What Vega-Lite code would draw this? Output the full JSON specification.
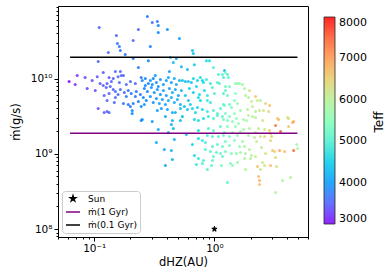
{
"$schema": "https://vega.github.io/schema/vega-lite/v6.json",
"autosize": {"type": "none"},
"padding": {"left": 58, "top": 6, "right": 82, "bottom": 41},
"width": 250,
"height": 231,
"config": {
 "font": "DejaVu Sans",
 "view": {"stroke": "black", "strokeWidth": 1},
 "axis": {"domainColor": "black", "tickColor": "black", "labelColor": "black", "titleColor": "black", "labelFontSize": 10.5, "titleFontSize": 11.5, "titleFontWeight": "normal", "grid": false, "tickWidth": 1, "domainWidth": 1}
},
"resolve": {"axis": {"x": "independent", "y": "independent"}},
"layer": [
 {
  "data": {"values": [
{"x":0.110,"y":4.76e10,"t":3500},{"x":0.277,"y":6.66e10,"t":3700},{"x":0.304,"y":5.54e10,"t":3600},{"x":0.335,"y":5.71e10,"t":3700},{"x":0.341,"y":5.06e10,"t":3800},{"x":0.341,"y":4.08e10,"t":3800},{"x":0.233,"y":4.47e10,"t":3500},{"x":0.153,"y":3.72e10,"t":3500},{"x":0.211,"y":3.20e10,"t":3600},{"x":0.156,"y":2.92e10,"t":3700},
{"x":0.162,"y":2.66e10,"t":3700},{"x":0.165,"y":2.35e10,"t":3700},{"x":0.293,"y":2.66e10,"t":3800},{"x":0.406,"y":4.47e10,"t":3900},{"x":0.511,"y":3.40e10,"t":4000},{"x":0.131,"y":2.21e10,"t":3600},{"x":0.181,"y":2.08e10,"t":3700},{"x":0.656,"y":2.35e10,"t":4300},{"x":0.668,"y":2.15e10,"t":4300},{"x":0.108,"y":1.68e10,"t":3600},
{"x":0.211,"y":1.84e10,"t":3700},{"x":0.233,"y":1.40e10,"t":3700},{"x":0.282,"y":1.73e10,"t":3800},{"x":0.430,"y":1.90e10,"t":4400},{"x":0.482,"y":1.84e10,"t":4100},{"x":0.455,"y":1.63e10,"t":4300},{"x":0.531,"y":1.44e10,"t":4200},{"x":0.681,"y":1.53e10,"t":4500},{"x":0.858,"y":1.73e10,"t":4700},{"x":0.909,"y":1.73e10,"t":4700},
{"x":0.422,"y":1.24e10,"t":4000},{"x":0.596,"y":1.32e10,"t":4300},{"x":0.981,"y":1.40e10,"t":5000},{"x":1.080,"y":1.13e10,"t":5000},{"x":1.166,"y":1.13e10,"t":5000},{"x":1.212,"y":1.28e10,"t":4300},{"x":1.235,"y":1.20e10,"t":5300},{"x":0.0619,"y":9.12e9,"t":3000},{"x":0.0722,"y":1.10e10,"t":3100},{"x":0.0841,"y":1.03e10,"t":3200},
{"x":0.0695,"y":8.32e9,"t":3100},{"x":0.0874,"y":7.36e9,"t":3200},{"x":0.106,"y":1.06e10,"t":3300},{"x":0.119,"y":1.20e10,"t":3400},{"x":0.133,"y":1.03e10,"t":3400},{"x":0.150,"y":1.24e10,"t":3500},{"x":0.165,"y":1.24e10,"t":3500},{"x":0.168,"y":1.10e10,"t":3600},{"x":0.144,"y":1.00e10,"t":3400},{"x":0.158,"y":1.06e10,"t":3500},
{"x":0.175,"y":1.10e10,"t":3500},{"x":0.200,"y":9.12e9,"t":3600},{"x":0.220,"y":8.58e9,"t":3600},{"x":0.246,"y":1.03e10,"t":3700},{"x":0.112,"y":8.58e9,"t":3400},{"x":0.119,"y":8.07e9,"t":3400},{"x":0.128,"y":8.58e9,"t":3400},{"x":0.126,"y":7.59e9,"t":3500},{"x":0.136,"y":7.83e9,"t":3500},{"x":0.144,"y":7.14e9,"t":3500},
{"x":0.150,"y":6.72e9,"t":3600},{"x":0.165,"y":7.14e9,"t":3600},{"x":0.178,"y":6.52e9,"t":3600},{"x":0.192,"y":6.93e9,"t":3700},{"x":0.203,"y":6.32e9,"t":3700},{"x":0.224,"y":6.72e9,"t":3700},{"x":0.242,"y":6.13e9,"t":3700},{"x":0.121,"y":5.94e9,"t":3500},{"x":0.133,"y":6.32e9,"t":3500},{"x":0.150,"y":5.59e9,"t":3600},
{"x":0.158,"y":6.13e9,"t":3600},{"x":0.185,"y":5.77e9,"t":3700},{"x":0.220,"y":5.77e9,"t":3700},{"x":0.128,"y":5.10e9,"t":3500},{"x":0.147,"y":4.80e9,"t":3600},{"x":0.175,"y":4.66e9,"t":3700},{"x":0.192,"y":4.52e9,"t":3700},{"x":0.211,"y":4.66e9,"t":3700},{"x":0.233,"y":4.95e9,"t":3800},{"x":0.108,"y":4.00e9,"t":3300},
{"x":0.121,"y":3.54e9,"t":3400},{"x":0.128,"y":3.65e9,"t":3500},{"x":0.133,"y":3.54e9,"t":3500},{"x":0.200,"y":4.25e9,"t":3700},{"x":0.207,"y":3.76e9,"t":3800},{"x":0.207,"y":3.43e9,"t":3800},{"x":0.246,"y":4.25e9,"t":3800},{"x":0.251,"y":2.85e9,"t":3900},{"x":0.0962,"y":9.41e9,"t":3300},{"x":0.102,"y":6.93e9,"t":3300},
{"x":0.139,"y":9.12e9,"t":3500},{"x":0.185,"y":8.32e9,"t":3600},{"x":0.162,"y":8.85e9,"t":3600},{"x":0.251,"y":9.41e9,"t":3800},{"x":0.266,"y":1.00e10,"t":3800},{"x":0.282,"y":8.58e9,"t":3800},{"x":0.293,"y":9.41e9,"t":3900},{"x":0.310,"y":1.00e10,"t":3800},{"x":0.329,"y":8.85e9,"t":3900},{"x":0.341,"y":7.83e9,"t":3900},
{"x":0.355,"y":9.70e9,"t":3900},{"x":0.376,"y":8.32e9,"t":4000},{"x":0.398,"y":9.41e9,"t":4000},{"x":0.414,"y":1.03e10,"t":4100},{"x":0.438,"y":8.85e9,"t":4000},{"x":0.464,"y":1.00e10,"t":4100},{"x":0.482,"y":8.32e9,"t":4100},{"x":0.511,"y":9.41e9,"t":4200},{"x":0.261,"y":7.36e9,"t":3800},{"x":0.277,"y":6.72e9,"t":3800},
{"x":0.299,"y":7.59e9,"t":3900},{"x":0.316,"y":6.52e9,"t":3900},{"x":0.335,"y":7.14e9,"t":3900},{"x":0.355,"y":6.13e9,"t":3900},{"x":0.376,"y":6.93e9,"t":4000},{"x":0.398,"y":5.94e9,"t":4000},{"x":0.422,"y":7.36e9,"t":4000},{"x":0.447,"y":6.52e9,"t":4100},{"x":0.473,"y":7.14e9,"t":4100},{"x":0.501,"y":5.94e9,"t":4100},
{"x":0.531,"y":6.93e9,"t":4200},{"x":0.256,"y":5.59e9,"t":3800},{"x":0.271,"y":5.10e9,"t":3800},{"x":0.293,"y":5.77e9,"t":3900},{"x":0.310,"y":4.80e9,"t":3900},{"x":0.329,"y":5.42e9,"t":3900},{"x":0.348,"y":4.66e9,"t":4000},{"x":0.369,"y":5.26e9,"t":4000},{"x":0.391,"y":4.52e9,"t":4000},{"x":0.414,"y":5.10e9,"t":4100},
{"x":0.438,"y":5.59e9,"t":4100},{"x":0.464,"y":4.80e9,"t":4100},{"x":0.492,"y":5.26e9,"t":4200},{"x":0.521,"y":4.52e9,"t":4200},{"x":0.261,"y":4.52e9,"t":3900},{"x":0.335,"y":3.76e9,"t":4000},{"x":0.362,"y":4.00e9,"t":4000},{"x":0.406,"y":3.88e9,"t":4100},{"x":0.447,"y":3.54e9,"t":4100},{"x":0.473,"y":3.54e9,"t":4200},
{"x":0.521,"y":4.00e9,"t":4300},{"x":0.562,"y":4.25e9,"t":4300},{"x":0.596,"y":3.88e9,"t":4400},{"x":0.541,"y":9.41e9,"t":4300},{"x":0.573,"y":9.12e9,"t":4300},{"x":0.607,"y":9.12e9,"t":4400},{"x":0.643,"y":8.85e9,"t":4400},{"x":0.322,"y":1.10e10,"t":3900},{"x":0.391,"y":3.13e9,"t":4100},{"x":0.447,"y":2.77e9,"t":4200},
{"x":0.521,"y":2.77e9,"t":4300},{"x":0.541,"y":3.13e9,"t":4300},{"x":0.246,"y":2.77e9,"t":3900},{"x":0.304,"y":2.69e9,"t":4000},{"x":0.438,"y":2.45e9,"t":4200},{"x":0.455,"y":2.17e9,"t":4200},{"x":0.341,"y":2.10e9,"t":4100},{"x":0.414,"y":1.92e9,"t":4100},{"x":0.584,"y":1.80e9,"t":4400},{"x":0.464,"y":1.55e9,"t":4200},
{"x":0.329,"y":1.41e9,"t":4100},{"x":0.383,"y":1.14e9,"t":4100},{"x":0.438,"y":1.11e9,"t":4200},{"x":0.391,"y":6.99e8,"t":4100},{"x":0.447,"y":8.40e8,"t":4200},{"x":0.266,"y":8.07e9,"t":3800},{"x":0.304,"y":8.32e9,"t":3900},{"x":0.668,"y":1.00e10,"t":4600},{"x":0.722,"y":9.41e9,"t":4600},{"x":0.764,"y":1.03e10,"t":4700},
{"x":0.794,"y":9.41e9,"t":4600},{"x":0.810,"y":8.85e9,"t":4700},{"x":0.858,"y":9.70e9,"t":4800},{"x":0.926,"y":8.58e9,"t":4800},{"x":0.962,"y":7.59e9,"t":4900},{"x":1.059,"y":8.85e9,"t":4900},{"x":1.101,"y":8.58e9,"t":5000},{"x":1.189,"y":1.03e10,"t":4900},{"x":1.308,"y":1.03e10,"t":5200},{"x":1.283,"y":1.13e10,"t":5000},
{"x":0.619,"y":7.36e9,"t":4500},{"x":0.668,"y":6.52e9,"t":4500},{"x":0.708,"y":7.83e9,"t":4600},{"x":0.750,"y":6.13e9,"t":4600},{"x":0.736,"y":5.59e9,"t":4700},{"x":0.764,"y":5.10e9,"t":4700},{"x":0.825,"y":6.93e9,"t":4700},{"x":0.874,"y":5.10e9,"t":4800},{"x":0.926,"y":4.80e9,"t":4800},{"x":0.874,"y":5.94e9,"t":4800},
{"x":1.000,"y":6.32e9,"t":4900},{"x":0.573,"y":5.94e9,"t":4400},{"x":0.607,"y":5.10e9,"t":4400},{"x":0.631,"y":4.52e9,"t":4500},{"x":0.656,"y":4.00e9,"t":4600},{"x":0.722,"y":4.12e9,"t":4600},{"x":0.794,"y":3.88e9,"t":4700},{"x":0.874,"y":3.65e9,"t":4800},{"x":0.981,"y":3.76e9,"t":4900},{"x":1.122,"y":4.00e9,"t":5000},
{"x":0.681,"y":2.85e9,"t":4600},{"x":0.736,"y":2.77e9,"t":4700},{"x":0.810,"y":2.94e9,"t":4700},{"x":0.891,"y":3.13e9,"t":4800},{"x":0.981,"y":2.94e9,"t":4900},{"x":1.059,"y":3.23e9,"t":5000},{"x":1.166,"y":3.13e9,"t":5100},{"x":0.736,"y":2.04e9,"t":4700},{"x":0.891,"y":2.17e9,"t":4900},{"x":0.981,"y":2.04e9,"t":5000},
{"x":1.122,"y":2.30e9,"t":5100},{"x":0.874,"y":1.75e9,"t":4900},{"x":0.962,"y":1.70e9,"t":5000},{"x":1.080,"y":1.70e9,"t":5100},{"x":1.189,"y":1.75e9,"t":5200},{"x":0.736,"y":1.60e9,"t":4700},{"x":0.794,"y":1.50e9,"t":4800},{"x":0.656,"y":1.33e9,"t":4600},{"x":0.841,"y":1.41e9,"t":4900},{"x":0.962,"y":1.25e9,"t":5000},
{"x":1.059,"y":1.33e9,"t":5100},{"x":1.166,"y":1.25e9,"t":5200},{"x":0.841,"y":1.14e9,"t":5000},{"x":0.926,"y":1.07e9,"t":5100},{"x":1.039,"y":1.04e9,"t":5100},{"x":1.122,"y":1.01e9,"t":5200},{"x":0.681,"y":9.49e8,"t":4700},{"x":0.981,"y":9.21e8,"t":5100},{"x":1.166,"y":9.21e8,"t":5200},{"x":0.736,"y":8.66e8,"t":4800},
{"x":0.810,"y":8.15e8,"t":4900},{"x":0.962,"y":8.15e8,"t":5100},{"x":0.708,"y":7.21e8,"t":4800},{"x":0.794,"y":7.43e8,"t":5000},{"x":0.944,"y":6.99e8,"t":5100},{"x":1.144,"y":6.99e8,"t":5300},{"x":0.874,"y":6.19e8,"t":5000},{"x":1.189,"y":4.52e9,"t":5100},{"x":1.334,"y":4.52e9,"t":5200},{"x":1.189,"y":6.32e9,"t":5000},
{"x":1.235,"y":6.93e9,"t":5100},{"x":1.283,"y":5.94e9,"t":5200},{"x":1.235,"y":7.83e9,"t":5200},{"x":1.334,"y":7.83e9,"t":5300},{"x":0.695,"y":3.54e9,"t":4600},{"x":1.496,"y":8.58e9,"t":5600},{"x":1.555,"y":8.58e9,"t":5700},{"x":1.616,"y":8.58e9,"t":5600},{"x":1.711,"y":8.32e9,"t":5800},{"x":1.778,"y":7.36e9,"t":5800},
{"x":1.957,"y":6.93e9,"t":6300},{"x":1.496,"y":6.32e9,"t":5500},{"x":1.813,"y":5.94e9,"t":5900},{"x":1.920,"y":5.59e9,"t":6000},{"x":2.196,"y":5.77e9,"t":6600},{"x":1.468,"y":5.10e9,"t":5500},{"x":1.555,"y":4.66e9,"t":5600},{"x":2.034,"y":4.95e9,"t":6100},{"x":2.282,"y":5.10e9,"t":6200},{"x":2.416,"y":5.10e9,"t":6000},
{"x":2.661,"y":4.66e9,"t":6400},{"x":2.873,"y":4.38e9,"t":6700},{"x":1.212,"y":4.38e9,"t":5300},{"x":1.386,"y":4.12e9,"t":5400},{"x":1.884,"y":3.88e9,"t":5900},{"x":2.073,"y":4.25e9,"t":6100},{"x":2.196,"y":3.65e9,"t":6000},{"x":2.371,"y":3.76e9,"t":6200},{"x":2.560,"y":3.76e9,"t":6300},{"x":2.818,"y":3.65e9,"t":6400},
{"x":1.235,"y":3.43e9,"t":5300},{"x":1.334,"y":3.13e9,"t":5400},{"x":1.468,"y":3.43e9,"t":5500},{"x":1.189,"y":2.85e9,"t":5300},{"x":1.283,"y":2.77e9,"t":5400},{"x":1.413,"y":2.69e9,"t":5500},{"x":1.585,"y":2.53e9,"t":5600},{"x":1.745,"y":2.85e9,"t":5700},{"x":1.848,"y":2.77e9,"t":5800},{"x":2.073,"y":3.13e9,"t":6000},
{"x":2.196,"y":3.03e9,"t":6100},{"x":2.512,"y":2.77e9,"t":6200},{"x":3.415,"y":2.85e9,"t":6800},{"x":4.137,"y":2.94e9,"t":6300},{"x":4.467,"y":2.60e9,"t":6800},{"x":3.223,"y":2.38e9,"t":7300},{"x":4.137,"y":2.30e9,"t":6600},{"x":3.548,"y":1.98e9,"t":7600},{"x":1.283,"y":2.30e9,"t":5400},{"x":1.496,"y":2.30e9,"t":5600},
{"x":1.745,"y":2.10e9,"t":5700},{"x":1.957,"y":2.17e9,"t":5900},{"x":2.326,"y":2.17e9,"t":6100},{"x":2.610,"y":2.10e9,"t":6300},{"x":2.873,"y":2.04e9,"t":6600},{"x":1.212,"y":1.92e9,"t":5300},{"x":1.413,"y":1.92e9,"t":5500},{"x":1.647,"y":1.98e9,"t":5700},{"x":2.196,"y":1.92e9,"t":6000},{"x":2.929,"y":1.86e9,"t":6500},
{"x":1.334,"y":1.70e9,"t":5400},{"x":1.555,"y":1.75e9,"t":5600},{"x":1.920,"y":1.75e9,"t":5900},{"x":2.154,"y":1.65e9,"t":6100},{"x":2.416,"y":1.70e9,"t":6200},{"x":2.610,"y":1.70e9,"t":6400},{"x":2.985,"y":1.70e9,"t":6500},{"x":1.235,"y":1.46e9,"t":5300},{"x":1.468,"y":1.50e9,"t":5500},{"x":1.711,"y":1.46e9,"t":5700},
{"x":2.239,"y":1.46e9,"t":6100},{"x":2.929,"y":1.50e9,"t":6400},{"x":1.334,"y":1.29e9,"t":5400},{"x":1.616,"y":1.25e9,"t":5600},{"x":1.778,"y":1.25e9,"t":5800},{"x":1.957,"y":1.14e9,"t":5900},{"x":2.464,"y":1.21e9,"t":6200},{"x":3.043,"y":1.11e9,"t":6600},{"x":3.481,"y":1.11e9,"t":6900},{"x":3.831,"y":1.07e9,"t":6700},
{"x":4.554,"y":1.11e9,"t":7400},{"x":4.824,"y":1.33e9,"t":5800},{"x":4.918,"y":1.18e9,"t":5900},{"x":1.235,"y":1.07e9,"t":5300},{"x":1.386,"y":1.01e9,"t":5400},{"x":1.525,"y":1.01e9,"t":5600},{"x":1.647,"y":1.04e9,"t":5700},{"x":1.813,"y":1.01e9,"t":5800},{"x":2.034,"y":9.49e8,"t":6000},{"x":2.196,"y":9.21e8,"t":6100},
{"x":2.661,"y":1.01e9,"t":6300},{"x":3.162,"y":1.07e9,"t":6500},{"x":1.778,"y":8.66e8,"t":5800},{"x":1.995,"y":8.66e8,"t":6000},{"x":2.512,"y":7.66e8,"t":6200},{"x":3.223,"y":8.93e8,"t":6400},{"x":1.360,"y":7.43e8,"t":5400},{"x":1.413,"y":6.99e8,"t":5500},{"x":1.555,"y":7.66e8,"t":5600},{"x":2.282,"y":6.78e8,"t":6600},
{"x":2.610,"y":6.99e8,"t":6300},{"x":2.929,"y":6.99e8,"t":6700},{"x":3.286,"y":6.78e8,"t":6300},{"x":2.416,"y":6.19e8,"t":6200},{"x":1.813,"y":6.19e8,"t":5900},{"x":2.326,"y":4.99e8,"t":6700},{"x":2.371,"y":4.42e8,"t":6800},{"x":2.371,"y":3.91e8,"t":6700},{"x":3.687,"y":4.42e8,"t":5900},{"x":4.299,"y":4.84e8,"t":5900},
{"x":1.283,"y":4.16e8,"t":5100},{"x":3.223,"y":3.06e8,"t":6000},{"x":3.350,"y":2.94e9,"t":6600},{"x":4.058,"y":3.03e9,"t":6300},{"x":4.554,"y":2.69e9,"t":6900},{"x":1.059,"y":3.43e9,"t":5000},{"x":1.647,"y":3.76e9,"t":5700},{"x":1.920,"y":3.23e9,"t":5900},{"x":1.525,"y":2.94e9,"t":5600}
  ]},
  "mark": {"type": "circle", "size": 9, "opacity": 0.85},
  "encoding": {
   "x": {"field": "x", "type": "quantitative", "scale": {"type": "log", "domain": [0.05, 6], "nice": false},
    "axis": {"orient": "bottom", "values": [0.05,0.06,0.07,0.08,0.09,0.1,0.2,0.3,0.4,0.5,0.6,0.7,0.8,0.9,1,2,3,4,5,6],
     "labelExpr": "datum.value == 0.1 ? '10⁻¹' : datum.value == 1 ? '10⁰' : ''",
     "tickSize": {"condition": {"test": "datum.value == 0.1 || datum.value == 1", "value": 4}, "value": 2},
     "labelOverlap": false, "labelFlush": false, "labelPadding": 2, "title": "dHZ(AU)", "titlePadding": 3}},
   "y": {"field": "y", "type": "quantitative", "scale": {"type": "log", "domain": [7.85e7, 9.2e10], "nice": false},
    "axis": {"orient": "left", "values": [8e7,9e7,1e8,2e8,3e8,4e8,5e8,6e8,7e8,8e8,9e8,1e9,2e9,3e9,4e9,5e9,6e9,7e9,8e9,9e9,1e10,2e10,3e10,4e10,5e10,6e10,7e10,8e10,9e10],
     "labelExpr": "datum.value == 1e8 ? '10⁸' : datum.value == 1e9 ? '10⁹' : datum.value == 1e10 ? '10¹⁰' : ''",
     "tickSize": {"condition": {"test": "datum.value == 1e8 || datum.value == 1e9 || datum.value == 1e10", "value": 4}, "value": 2},
     "labelOverlap": false, "labelFlush": false, "labelPadding": 2, "title": "ṁ(g/s)", "titlePadding": 9}},
   "color": {"field": "t", "type": "quantitative",
    "scale": {"domain": [3000,3625,4250,4875,5500,6125,6750,7375,8000], "range": ["#8000ff","#4062fa","#00b4ec","#40ecd4","#80ffb4","#c0ec8e","#ffb462","#ff6232","#ff0000"], "clamp": true},
    "legend": {"orient": "none", "legendX": 266, "legendY": 11, "direction": "vertical", "gradientLength": 207, "gradientThickness": 11, "gradientStrokeColor": "black", "gradientStrokeWidth": 0.8, "title": null, "values": [3000,4000,5000,6000,7000,8000], "format": "d", "labelFontSize": 11, "labelOffset": 4, "labelBaseline": "middle", "labelColor": "black"}}
  }
 },
 {
  "data": {"values": [
   {"x": 0.063, "x2": 4.9, "y": 1.88e9, "s": "ṁ(1 Gyr)"},
   {"x": 0.063, "x2": 4.9, "y": 1.92e10, "s": "ṁ(0.1 Gyr)"}
  ]},
  "mark": {"type": "rule", "strokeWidth": 1.5},
  "encoding": {
   "x": {"field": "x", "type": "quantitative", "scale": {"type": "log", "domain": [0.05, 6], "nice": false}, "axis": null},
   "x2": {"field": "x2"},
   "y": {"field": "y", "type": "quantitative", "scale": {"type": "log", "domain": [7.85e7, 9.2e10], "nice": false},
    "axis": {"orient": "right", "title": "Teff", "titleAngle": 270, "titlePadding": 77, "titleFontSize": 12, "labels": false, "ticks": false, "domain": false, "grid": false}},
   "stroke": {"field": "s", "type": "nominal", "scale": {"domain": ["Sun", "ṁ(1 Gyr)", "ṁ(0.1 Gyr)"], "range": ["black", "purple", "black"]},
    "legend": {"title": null, "orient": "bottom-left", "offset": 4, "padding": 3, "strokeColor": "#cccccc", "fillColor": "white", "cornerRadius": 3, "labelFontSize": 9, "labelOffset": 7, "rowPadding": 0, "symbolStrokeWidth": 1.5, "labelColor": "black"}}
  }
 },
 {
  "data": {"values": [{"x": 1, "y": 1e8, "s": "Sun"}]},
  "mark": {"type": "point", "strokeWidth": 1, "opacity": 1},
  "encoding": {
   "x": {"field": "x", "type": "quantitative", "scale": {"type": "log", "domain": [0.05, 6], "nice": false}, "axis": null},
   "y": {"field": "y", "type": "quantitative", "scale": {"type": "log", "domain": [7.85e7, 9.2e10], "nice": false}, "axis": null},
   "shape": {"field": "s", "type": "nominal", "scale": {"domain": ["Sun", "ṁ(1 Gyr)", "ṁ(0.1 Gyr)"], "range": ["M0,-1L0.2245,-0.309L0.951,-0.309L0.363,0.118L0.588,0.809L0,0.382L-0.588,0.809L-0.363,0.118L-0.951,-0.309L-0.2245,-0.309Z", "stroke", "stroke"]},
    "legend": {"title": null, "orient": "bottom-left", "offset": 4, "padding": 3, "strokeColor": "#cccccc", "fillColor": "white", "cornerRadius": 3, "labelFontSize": 9, "labelOffset": 7, "rowPadding": 0, "symbolStrokeWidth": 1.5, "labelColor": "black"}},
   "fill": {"field": "s", "type": "nominal", "scale": {"domain": ["Sun", "ṁ(1 Gyr)", "ṁ(0.1 Gyr)"], "range": ["black", "purple", "black"]},
    "legend": {"title": null, "orient": "bottom-left", "offset": 4, "padding": 3, "strokeColor": "#cccccc", "fillColor": "white", "cornerRadius": 3, "labelFontSize": 9, "labelOffset": 7, "rowPadding": 0, "symbolStrokeWidth": 1.5, "labelColor": "black"}},
   "stroke": {"field": "s", "type": "nominal", "scale": {"domain": ["Sun", "ṁ(1 Gyr)", "ṁ(0.1 Gyr)"], "range": ["black", "purple", "black"]},
    "legend": {"title": null, "orient": "bottom-left", "offset": 4, "padding": 3, "strokeColor": "#cccccc", "fillColor": "white", "cornerRadius": 3, "labelFontSize": 9, "labelOffset": 7, "rowPadding": 0, "symbolStrokeWidth": 1.5, "labelColor": "black"}},
   "size": {"field": "s", "type": "nominal", "scale": {"type": "ordinal", "domain": ["Sun", "ṁ(1 Gyr)", "ṁ(0.1 Gyr)"], "range": [30, 196, 196]},
    "legend": {"title": null, "orient": "bottom-left", "offset": 4, "padding": 3, "strokeColor": "#cccccc", "fillColor": "white", "cornerRadius": 3, "labelFontSize": 9, "labelOffset": 7, "rowPadding": 0, "symbolStrokeWidth": 1.5, "labelColor": "black"}}
  }
 }
]
}
